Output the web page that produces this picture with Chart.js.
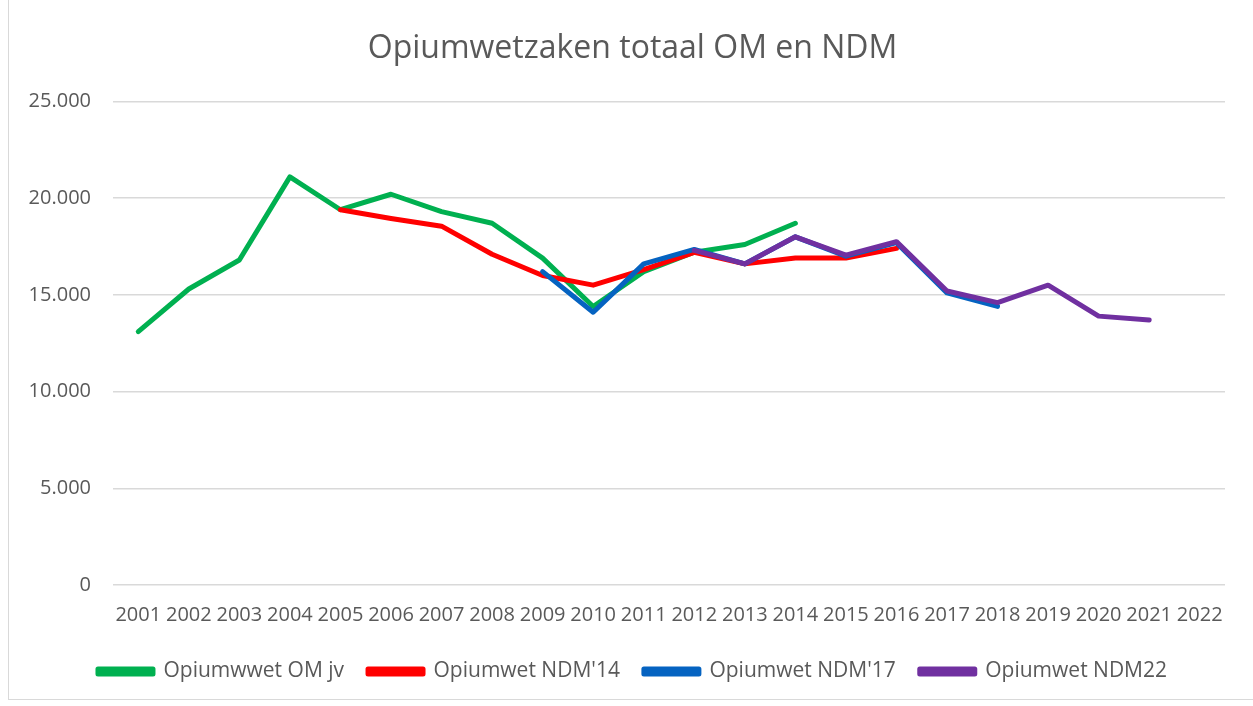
<!DOCTYPE html>
<html>
<head>
<meta charset="utf-8">
<script src="https://cdn.jsdelivr.net/npm/chart.js@4"></script>
<style>
    html, body { margin: 0; padding: 0; background: #fff; }
    #wrap { position: absolute; left: 8px; top: -1px; width: 1260px; height: 701px; border: 1px solid #d9d9d9; box-sizing: border-box; }
    canvas { position: absolute; left: 0; top: 0; }
</style>
</head>
<body>
<div id="wrap"></div>
<canvas id="chart" width="1253" height="706"></canvas>
<script>
const years = ['2001', '2002', '2003', '2004', '2005', '2006', '2007', '2008', '2009', '2010', '2011',
    '2012', '2013', '2014', '2015', '2016', '2017', '2018', '2019', '2020', '2021', '2022']
const omJv = [13100, 15300, 16800, 21100, 19400, 20200, 19300, 18700, 16900, 14400, 16200,
    17200, 17600, 18700, null, null, null, null, null, null, null, null]
const ndm14 = [null, null, null, null, 19400, 18950, 18550, 17100, 16000, 15500, 16300,
    17200, 16600, 16900, 16900, 17400, null, null, null, null, null, null]
const ndm17 = [null, null, null, null, null, null, null, null, 16200, 14100, 16600,
    17350, 16600, 18000, 17000, 17700, 15100, 14400, null, null, null, null]
const ndm22 = [null, null, null, null, null, null, null, null, null, null, null,
    17300, 16600, 18000, 17050, 17750, 15200, 14600, 15500, 13900, 13700, null]

const grey = '#595959'
const font = 'Open Sans'

// later series are drawn on top (lower order = drawn last)
function series(label, data, color, order) {
    return {
        label,
        data,
        order,
        borderColor: color,
        backgroundColor: color,
        borderWidth: 5,
        tension: 0,
        pointRadius: 0,
        borderCapStyle: 'round',
        borderJoinStyle: 'round',
        spanGaps: false
    }
}

new Chart(document.getElementById('chart'), {
    type: 'line',
    data: {
        labels: years,
        datasets: [
            series('Opiumwwet OM jv', omJv, '#00b050', 3),
            series("Opiumwet NDM'14", ndm14, '#ff0000', 2),
            series("Opiumwet NDM'17", ndm17, '#0563c1', 1),
            series('Opiumwet NDM22', ndm22, '#7030a0', 0)
        ]
    },
    options: {
        animation: false,
        responsive: false,
        layout: { padding: { left: 22, right: 10, top: 14, bottom: 14 } },
        scales: {
            x: {
                offset: true,
                grid: { display: false },
                border: { display: false },
                ticks: { color: grey, font: { family: font, size: 20 }, maxRotation: 0, autoSkip: false, padding: 10 }
            },
            y: {
                min: 0,
                max: 25000,
                afterFit: scale => { scale.width = 91 },
                grid: { color: '#d9d9d9', lineWidth: 1.5, drawTicks: false },
                border: { display: false },
                ticks: {
                    stepSize: 5000,
                    color: grey,
                    padding: 22,
                    font: { family: font, size: 20 },
                    callback: v => v === 0 ? '0' : v.toLocaleString('nl-NL')
                }
            },
            // empty right-hand strip so title and legend sit centred like the original
            spacer: {
                position: 'right',
                afterFit: scale => { scale.width = 18 },
                grid: { display: false },
                border: { display: false },
                ticks: { display: false }
            }
        },
        plugins: {
            title: {
                display: true,
                text: 'Opiumwetzaken totaal OM en NDM',
                color: grey,
                font: { family: font, size: 32, weight: 'normal' },
                padding: { top: 16, bottom: 33 }
            },
            legend: {
                position: 'bottom',
                labels: {
                    color: grey,
                    font: { family: font, size: 21 },
                    boxWidth: 55,
                    boxHeight: 5,
                    padding: 24,
                    sort: (a, b) => a.datasetIndex - b.datasetIndex
                }
            },
            tooltip: { enabled: false }
        }
    }
})
</script>
</body>
</html>
